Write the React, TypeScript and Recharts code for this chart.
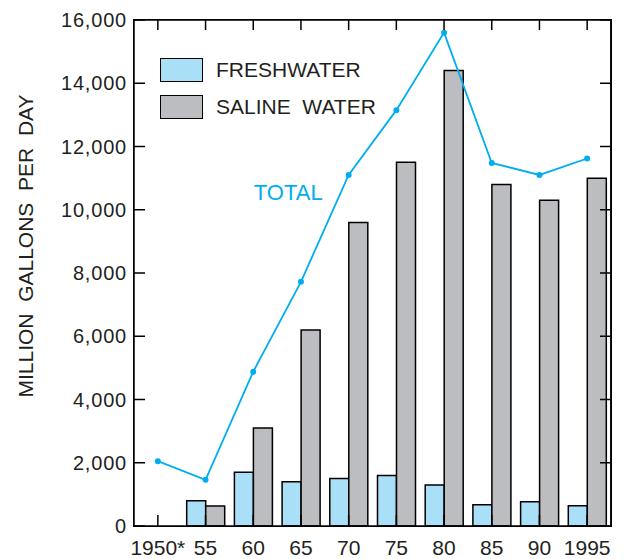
import React from 'react';
import { ComposedChart, Bar, Line, XAxis, YAxis, Legend, LabelList, CartesianGrid } from 'recharts';

const years = ['1950*', '55', '60', '65', '70', '75', '80', '85', '90', '1995'];
const freshwater = [null, 800, 1700, 1400, 1500, 1600, 1300, 670, 770, 640];
const saline = [null, 630, 3100, 6200, 9600, 11500, 14400, 10800, 10300, 11000];
const total = [2050, 1460, 4880, 7720, 11100, 13150, 15600, 11480, 11100, 11620];
const yTicks = [0, 2000, 4000, 6000, 8000, 10000, 12000, 14000, 16000];

const data = years.map((year, i) => ({
    year,
    fresh: freshwater[i],
    saline: saline[i],
    total: total[i],
}));

const W = 624;
const H = 559;
const FONT = '"Liberation Sans", Arial, Helvetica, sans-serif';
const INK = '#231f20';
const LINE = '#00aeef';
const PLOT_TOP = 20;
const PLOT_LEFT = 134;
const PLOT_RIGHT = 13;
const PLOT_BOTTOM = 33;

const fmt = (v: number) => String(v).replace(/\B(?=(\d{3})+(?!\d))/g, ',');
const blank = () => '';

const LegendBox = ({ payload }: any) => (
    <div style={{ fontFamily: FONT }}>
        {(payload || [])
            .filter((p: any) => p.dataKey !== 'total')
            .map((p: any) => (
                <div key={p.value} style={{ display: 'flex', alignItems: 'center', height: 25, marginBottom: 12 }}>
                    <div
                        style={{
                            width: 41,
                            height: 22,
                            background: p.color,
                            border: '1.5px solid #000',
                            marginRight: 13,
                        }}
                    />
                    <span style={{ fontSize: 21, color: INK, whiteSpace: 'pre' }}>{p.value}</span>
                </div>
            ))}
    </div>
);

// bottom tick label, plus the matching inward tick on the top frame edge
const YearTick = ({ x, y, payload }: any) => (
    <g>
        <line x1={x} x2={x} y1={PLOT_TOP} y2={PLOT_TOP + 10} stroke="#000" strokeWidth={1.5} />
        <text x={x} y={y} dy={15} textAnchor="middle" fontSize={21} fill={INK} fontFamily={FONT}>
            {payload.value}
        </text>
    </g>
);

const TotalLabel = ({ x, y, index }: any) => {
    if (index !== 4) return null;
    return (
        <text x={x - 26} y={y + 25} textAnchor="end" fontSize={22} fill={LINE} fontFamily={FONT}>
            TOTAL
        </text>
    );
};

const AxisTitle = ({ viewBox }: any) => {
    const cx = viewBox.x + 25;
    const cy = viewBox.y + viewBox.height / 2 - 27;
    return (
        <text
            x={cx}
            y={cy}
            transform={`rotate(-90, ${cx}, ${cy})`}
            textAnchor="middle"
            dominantBaseline="central"
            fontSize={21}
            fill={INK}
            fontFamily={FONT}
            style={{ whiteSpace: 'pre' }}
        >
            {'MILLION  GALLONS  PER  DAY'}
        </text>
    );
};

export default function App() {
    return (
        <div style={{ position: 'absolute', left: 0, top: 0, width: W, height: H, background: '#fff' }}>
            <ComposedChart
                width={W}
                height={H}
                data={data}
                margin={{ top: PLOT_TOP, right: 3, left: 0, bottom: 0 }}
                barGap={0}
            >
                <CartesianGrid
                    stroke="#000"
                    strokeWidth={1.5}
                    horizontalCoordinatesGenerator={({ offset }: any) => [offset.top]}
                    verticalCoordinatesGenerator={({ offset }: any) => [offset.left + offset.width]}
                />
                <XAxis
                    dataKey="year"
                    height={PLOT_BOTTOM}
                    interval={0}
                    tickSize={-11}
                    tickMargin={25}
                    stroke="#000"
                    strokeWidth={1.5}
                    tick={<YearTick />}
                />
                <YAxis
                    width={PLOT_LEFT}
                    domain={[0, 16000]}
                    ticks={yTicks}
                    tickSize={-11}
                    tickMargin={18}
                    tickFormatter={fmt}
                    stroke="#000"
                    strokeWidth={1.5}
                    tick={{ fontSize: 20, fill: INK, fontFamily: FONT, letterSpacing: 0.8 }}
                    label={{ content: <AxisTitle /> } as any}
                />
                <YAxis
                    yAxisId="right"
                    orientation="right"
                    width={10}
                    domain={[0, 16000]}
                    ticks={yTicks}
                    tickSize={-11}
                    tickFormatter={blank}
                    stroke="#000"
                    strokeWidth={1.5}
                />
                <Legend
                    layout="vertical"
                    align="center"
                    verticalAlign="middle"
                    wrapperStyle={{ left: 160, top: 57, width: 260 }}
                    content={<LegendBox />}
                />
                <Bar
                    dataKey="fresh"
                    name="FRESHWATER"
                    barSize={19}
                    fill="#aadff8"
                    stroke="#000"
                    strokeWidth={1.5}
                    isAnimationActive={false}
                />
                <Bar
                    dataKey="saline"
                    name="SALINE  WATER"
                    barSize={19}
                    fill="#bcbdc0"
                    stroke="#000"
                    strokeWidth={1.5}
                    isAnimationActive={false}
                />
                {/* invisible series so the right frame axis gets a scale */}
                <Line
                    yAxisId="right"
                    dataKey="total"
                    legendType="none"
                    stroke="none"
                    dot={false}
                    activeDot={false}
                    isAnimationActive={false}
                />
                <Line
                    dataKey="total"
                    name="TOTAL"
                    legendType="none"
                    stroke={LINE}
                    strokeWidth={1.8}
                    dot={{ r: 3, fill: LINE, stroke: 'none' }}
                    activeDot={false}
                    isAnimationActive={false}
                >
                    <LabelList dataKey="total" content={<TotalLabel />} />
                </Line>
            </ComposedChart>
            {/* plot frame overlay */}
            <div
                style={{
                    position: 'absolute',
                    left: PLOT_LEFT - 0.75,
                    top: PLOT_TOP - 0.75,
                    width: W - PLOT_LEFT - PLOT_RIGHT + 1.5,
                    height: H - PLOT_TOP - PLOT_BOTTOM + 1.5,
                    border: '1.5px solid #000',
                    boxSizing: 'border-box',
                    pointerEvents: 'none',
                }}
            />
        </div>
    );
}
